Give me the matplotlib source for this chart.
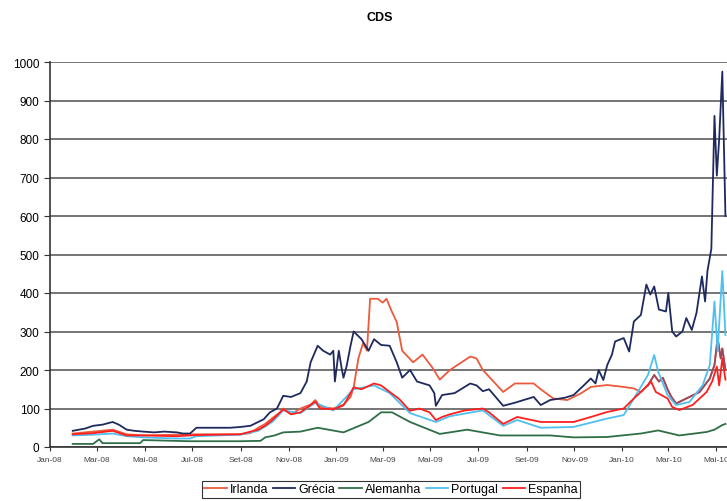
import matplotlib.pyplot as plt
import pandas as pd

# CDS spreads (bp)
irlanda = [
    ("2008-01-30", 35), ("2008-02-25", 40), ("2008-03-21", 45), ("2008-04-08", 33),
    ("2008-04-29", 30), ("2008-06-11", 32), ("2008-07-06", 33), ("2008-08-31", 33),
    ("2008-09-13", 36), ("2008-09-23", 50), ("2008-10-02", 60), ("2008-10-11", 75),
    ("2008-10-21", 90), ("2008-10-25", 100), ("2008-11-04", 85), ("2008-11-16", 100),
    ("2008-11-29", 110), ("2008-12-05", 122), ("2008-12-11", 105), ("2008-12-28", 100),
    ("2009-01-10", 110), ("2009-01-19", 130), ("2009-01-23", 155), ("2009-01-29", 230),
    ("2009-02-04", 270), ("2009-02-09", 250), ("2009-02-13", 385), ("2009-02-23", 385),
    ("2009-03-01", 375), ("2009-03-06", 385), ("2009-03-12", 355), ("2009-03-19", 325),
    ("2009-03-26", 250), ("2009-04-09", 220), ("2009-04-21", 240), ("2009-05-04", 205),
    ("2009-05-13", 175), ("2009-05-26", 200), ("2009-06-21", 235), ("2009-06-29", 230),
    ("2009-07-07", 200), ("2009-08-02", 143), ("2009-08-17", 165), ("2009-09-10", 165),
    ("2009-09-19", 150), ("2009-10-05", 126), ("2009-10-23", 122), ("2009-11-09", 139),
    ("2009-11-22", 156), ("2009-12-13", 161), ("2010-01-03", 156), ("2010-01-16", 152),
    ("2010-01-25", 143), ("2010-02-03", 160), ("2010-02-11", 187), ("2010-02-17", 170),
    ("2010-02-22", 180), ("2010-02-28", 150), ("2010-03-05", 130), ("2010-03-11", 113),
    ("2010-03-24", 126), ("2010-04-10", 143), ("2010-04-23", 178), ("2010-04-29", 213),
    ("2010-05-03", 283), ("2010-05-07", 230), ("2010-05-09", 256), ("2010-05-13", 200),
]

grecia = [
    ("2008-01-30", 42), ("2008-02-15", 48), ("2008-02-25", 55), ("2008-03-08", 58),
    ("2008-03-21", 65), ("2008-03-29", 58), ("2008-04-08", 45), ("2008-04-18", 42),
    ("2008-04-29", 40), ("2008-05-13", 38), ("2008-05-26", 40), ("2008-06-11", 38),
    ("2008-06-19", 35), ("2008-06-28", 35), ("2008-07-06", 50), ("2008-07-29", 50),
    ("2008-08-18", 50), ("2008-08-31", 52), ("2008-09-13", 55), ("2008-09-23", 65),
    ("2008-09-30", 72), ("2008-10-08", 90), ("2008-10-17", 100), ("2008-10-25", 133),
    ("2008-11-04", 130), ("2008-11-16", 140), ("2008-11-24", 170), ("2008-11-29", 220),
    ("2008-12-08", 263), ("2008-12-15", 250), ("2008-12-24", 240), ("2008-12-28", 250),
    ("2008-12-30", 170), ("2009-01-04", 250), ("2009-01-08", 200), ("2009-01-10", 180),
    ("2009-01-14", 210), ("2009-01-19", 263), ("2009-01-23", 300), ("2009-02-02", 280),
    ("2009-02-11", 250), ("2009-02-18", 280), ("2009-02-27", 265), ("2009-03-10", 263),
    ("2009-03-19", 220), ("2009-03-26", 180), ("2009-04-05", 200), ("2009-04-14", 170),
    ("2009-04-30", 160), ("2009-05-06", 140), ("2009-05-08", 107), ("2009-05-16", 135),
    ("2009-06-01", 140), ("2009-06-21", 165), ("2009-06-29", 160), ("2009-07-07", 145),
    ("2009-07-15", 150), ("2009-08-02", 107), ("2009-08-17", 115), ("2009-09-10", 130),
    ("2009-09-19", 109), ("2009-10-01", 122), ("2009-10-20", 128), ("2009-10-31", 135),
    ("2009-11-13", 160), ("2009-11-22", 178), ("2009-11-28", 165), ("2009-12-02", 200),
    ("2009-12-08", 174), ("2009-12-13", 213), ("2009-12-19", 240), ("2009-12-23", 274),
    ("2010-01-03", 283), ("2010-01-10", 248), ("2010-01-16", 326), ("2010-01-25", 343),
    ("2010-02-01", 422), ("2010-02-06", 396), ("2010-02-11", 417), ("2010-02-17", 357),
    ("2010-02-26", 352), ("2010-03-01", 400), ("2010-03-06", 300), ("2010-03-11", 287),
    ("2010-03-19", 300), ("2010-03-24", 335), ("2010-03-31", 304), ("2010-04-06", 348),
    ("2010-04-13", 443), ("2010-04-17", 378), ("2010-04-20", 457), ("2010-04-25", 515),
    ("2010-04-29", 860), ("2010-05-02", 705), ("2010-05-05", 800), ("2010-05-09", 975),
    ("2010-05-13", 600),
]

alemanha = [
    ("2008-01-30", 8), ("2008-02-25", 8), ("2008-03-04", 20), ("2008-03-08", 10),
    ("2008-04-25", 10), ("2008-04-29", 18), ("2008-06-28", 15), ("2008-08-31", 15),
    ("2008-09-26", 16), ("2008-10-02", 25), ("2008-10-14", 30), ("2008-10-25", 38),
    ("2008-11-16", 40), ("2008-12-08", 50), ("2009-01-10", 38), ("2009-02-11", 65),
    ("2009-02-27", 90), ("2009-03-13", 90), ("2009-04-05", 65), ("2009-05-13", 34),
    ("2009-05-26", 38), ("2009-06-17", 45), ("2009-07-29", 30), ("2009-10-01", 30),
    ("2009-10-31", 25), ("2009-12-13", 26), ("2010-01-25", 35), ("2010-02-16", 43),
    ("2010-03-15", 30), ("2010-04-19", 39), ("2010-04-29", 45), ("2010-05-09", 57),
    ("2010-05-13", 60),
]

portugal = [
    ("2008-01-30", 30), ("2008-02-25", 32), ("2008-03-21", 35), ("2008-04-08", 28),
    ("2008-04-29", 25), ("2008-06-11", 22), ("2008-06-28", 22), ("2008-07-06", 28),
    ("2008-08-31", 32), ("2008-09-23", 42), ("2008-10-11", 65), ("2008-10-25", 95),
    ("2008-11-16", 88), ("2008-12-05", 115), ("2008-12-28", 95), ("2009-01-23", 150),
    ("2009-02-18", 160), ("2009-03-10", 140), ("2009-04-05", 88), ("2009-05-08", 65),
    ("2009-05-26", 80), ("2009-07-07", 95), ("2009-08-02", 55), ("2009-08-20", 70),
    ("2009-09-19", 50), ("2009-10-31", 52), ("2009-12-13", 74), ("2010-01-03", 83),
    ("2010-01-16", 126), ("2010-02-03", 187), ("2010-02-11", 239), ("2010-02-16", 196),
    ("2010-02-28", 135), ("2010-03-11", 109), ("2010-03-28", 117), ("2010-04-14", 161),
    ("2010-04-23", 213), ("2010-04-29", 378), ("2010-05-03", 248), ("2010-05-09", 457),
    ("2010-05-13", 291),
]

espanha = [
    ("2008-01-30", 33), ("2008-02-25", 36), ("2008-03-21", 42), ("2008-04-08", 30),
    ("2008-04-29", 30), ("2008-06-11", 28), ("2008-07-06", 31), ("2008-08-31", 33),
    ("2008-09-23", 45), ("2008-10-02", 55), ("2008-10-11", 70), ("2008-10-25", 98),
    ("2008-11-04", 85), ("2008-11-16", 90), ("2008-12-05", 118), ("2008-12-11", 100),
    ("2008-12-28", 98), ("2009-01-10", 108), ("2009-01-23", 155), ("2009-02-02", 150),
    ("2009-02-18", 165), ("2009-02-27", 160), ("2009-03-10", 143), ("2009-03-22", 125),
    ("2009-04-05", 94), ("2009-04-17", 100), ("2009-04-30", 90), ("2009-05-08", 70),
    ("2009-05-16", 78), ("2009-05-26", 85), ("2009-06-14", 95), ("2009-07-07", 100),
    ("2009-07-15", 90), ("2009-08-02", 60), ("2009-08-20", 78), ("2009-09-19", 65),
    ("2009-10-31", 65), ("2009-11-22", 78), ("2009-12-13", 91), ("2010-01-03", 100),
    ("2010-01-16", 126), ("2010-01-25", 143), ("2010-02-07", 170), ("2010-02-13", 143),
    ("2010-02-28", 126), ("2010-03-06", 104), ("2010-03-15", 96), ("2010-04-01", 109),
    ("2010-04-19", 143), ("2010-04-26", 170), ("2010-05-02", 209), ("2010-05-05", 160),
    ("2010-05-09", 230), ("2010-05-13", 175),
]

tick_dates = ["2008-01-01", "2008-03-01", "2008-05-01", "2008-07-01", "2008-09-01",
              "2008-11-01", "2009-01-01", "2009-03-01", "2009-05-01", "2009-07-01",
              "2009-09-01", "2009-11-01", "2010-01-01", "2010-03-01", "2010-05-01"]
tick_labels = ["Jan-08", "Mar-08", "Mai-08", "Jul-08", "Set-08", "Nov-08", "Jan-09",
               "Mar-09", "Mai-09", "Jul-09", "Set-09", "Nov-09", "Jan-10", "Mar-10",
               "Mai-10"]

plt.rcParams['font.family'] = ['Liberation Sans', 'DejaVu Sans']


def frame(pairs):
    df = pd.DataFrame(pairs, columns=["date", "cds"])
    df["date"] = pd.to_datetime(df["date"])
    return df


series = [
    ("Irlanda", irlanda, "#ec5a3c"),
    ("Grécia", grecia, "#1e2a5e"),
    ("Alemanha", alemanha, "#2f6e48"),
    ("Portugal", portugal, "#4fc0f0"),
    ("Espanha", espanha, "#ff1f1f"),
]

fig = plt.figure(figsize=(7.27, 5.02), dpi=100)
ax = fig.add_axes([50 / 727, 54 / 502, 677 / 727, 385 / 502])

for name, pairs, color in series:
    df = frame(pairs)
    ax.plot(df["date"], df["cds"], color=color, lw=1.3, label=name)
    if name == "Irlanda":
        # the tail of this series is drawn darker in the original
        tail = df[df["date"] >= "2010-02-03"]
        ax.plot(tail["date"], tail["cds"], color="#9a4a60", lw=1.3)

ax.set_ylim(0, 1000)
ax.set_yticks(range(0, 1001, 100))
ax.set_xlim(pd.Timestamp("2008-01-01"), pd.Timestamp("2010-05-15"))
ax.set_xticks(pd.to_datetime(tick_dates))
ax.set_xticklabels(tick_labels, fontsize=6, color="#444444")
ax.tick_params(axis="y", labelsize=8.5, length=4, color="#333333")
ax.tick_params(axis="x", length=3, color="#333333")
ax.grid(axis="y", color="#505050", lw=1.1)
ax.set_axisbelow(True)
for side in ["top", "right"]:
    ax.spines[side].set_visible(False)
for side in ["left", "bottom"]:
    ax.spines[side].set_color("#333333")
    ax.spines[side].set_linewidth(1.2)

fig.suptitle("CDS", x=380 / 727, y=1 - 18 / 502, va="center",
             fontsize=9, fontweight="bold")

leg = fig.legend(loc="center", bbox_to_anchor=(391 / 727, 1 - 490 / 502), ncol=5,
                 frameon=True, fancybox=False, edgecolor="black",
                 handlelength=1.8, handletextpad=0.25, columnspacing=0.35,
                 borderpad=0.2, borderaxespad=0, prop={"size": 9})
leg.get_frame().set_linewidth(0.8)

fig.savefig("out.png", dpi=100)
